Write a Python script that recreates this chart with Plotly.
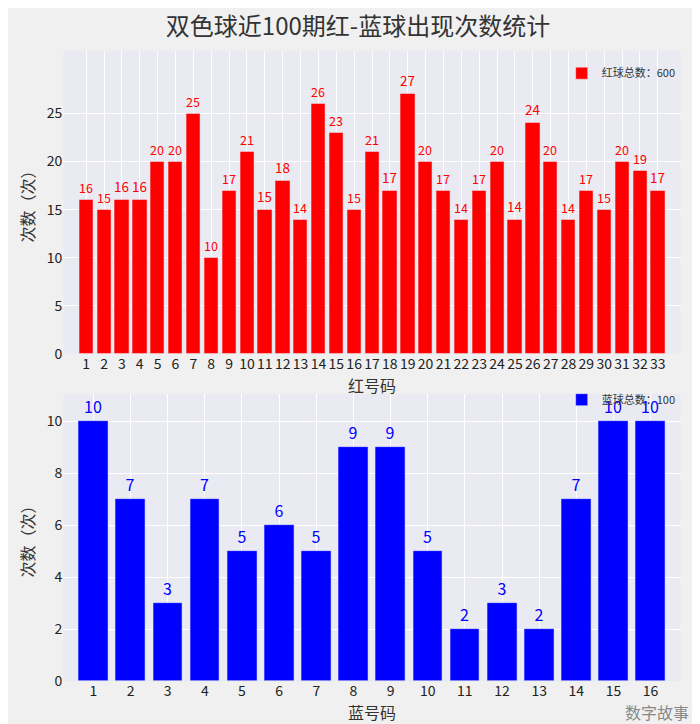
import plotly.graph_objects as go
from plotly.subplots import make_subplots

red_nums = list(range(1, 34))
red_counts = [16, 15, 16, 16, 20, 20, 25, 10, 17, 21, 15, 18, 14, 26, 23, 15, 21,
              17, 27, 20, 17, 14, 17, 20, 14, 24, 20, 14, 17, 15, 20, 19, 17]
blue_nums = list(range(1, 17))
blue_counts = [10, 7, 3, 7, 5, 6, 5, 9, 9, 5, 2, 3, 2, 7, 10, 10]

font = "Noto Sans CJK SC"
fig = make_subplots(rows=2, cols=1)

fig.add_trace(go.Bar(
    x=red_nums, y=red_counts, width=0.8, marker_color="red", showlegend=True,
    name=f"红球总数：{sum(red_counts)}", text=red_counts, textposition="outside",
    textfont=dict(color="red", size=16), cliponaxis=False, legend="legend"
), row=1, col=1)
fig.add_trace(go.Bar(
    x=blue_nums, y=blue_counts, width=0.8, marker_color="blue", showlegend=True,
    name=f"蓝球总数：{sum(blue_counts)}", text=blue_counts, textposition="outside",
    textfont=dict(color="blue", size=16), cliponaxis=False, legend="legend2"
), row=2, col=1)

ax = dict(showgrid=True, gridcolor="white", gridwidth=1, zeroline=False,
          automargin=False, tickfont=dict(size=14, color="#222"), ticks="")
fig.update_xaxes(**ax)
fig.update_yaxes(**ax)

fig.update_layout(
    width=700, height=724,
    margin=dict(l=0, r=0, t=0, b=0),
    paper_bgcolor="#f0f0f0", plot_bgcolor="#eaeaf2",
    font=dict(family=font, color="#333"),
    title=dict(text="双色球近100期红-蓝球出现次数统计", x=0.5, y=0.974,
               xanchor="center", yanchor="middle", font=dict(size=24, color="#333")),
    bargap=0,
    xaxis=dict(domain=[0.079, 0.961], range=[-0.28, 34.28], tickvals=red_nums,
               title=dict(text="红号码", font=dict(size=16), standoff=0)),
    yaxis=dict(domain=[0.522, 0.941], range=[0, 31.5], tickvals=[0, 5, 10, 15, 20, 25],
               title=dict(text="次数（次）", font=dict(size=16), standoff=8)),
    xaxis2=dict(domain=[0.079, 0.961], range=[0.19, 16.81], tickvals=blue_nums,
                title=dict(text="蓝号码", font=dict(size=16), standoff=0)),
    yaxis2=dict(domain=[0.070, 0.467], range=[0, 11.05], tickvals=[0, 2, 4, 6, 8, 10],
                title=dict(text="次数（次）", font=dict(size=16), standoff=8)),
    legend=dict(x=0.961, y=0.910, xanchor="right", yanchor="middle",
                bgcolor="rgba(0,0,0,0)", font=dict(size=11)),
    legend2=dict(x=0.961, y=0.459, xanchor="right", yanchor="middle",
                 bgcolor="rgba(0,0,0,0)", font=dict(size=11)),
    annotations=[dict(text="数字故事", x=0.975, y=0.008, xref="paper", yref="paper",
                      xanchor="right", yanchor="bottom", showarrow=False,
                      font=dict(size=16, color="#888"))],
)

fig.write_html("out.html")
